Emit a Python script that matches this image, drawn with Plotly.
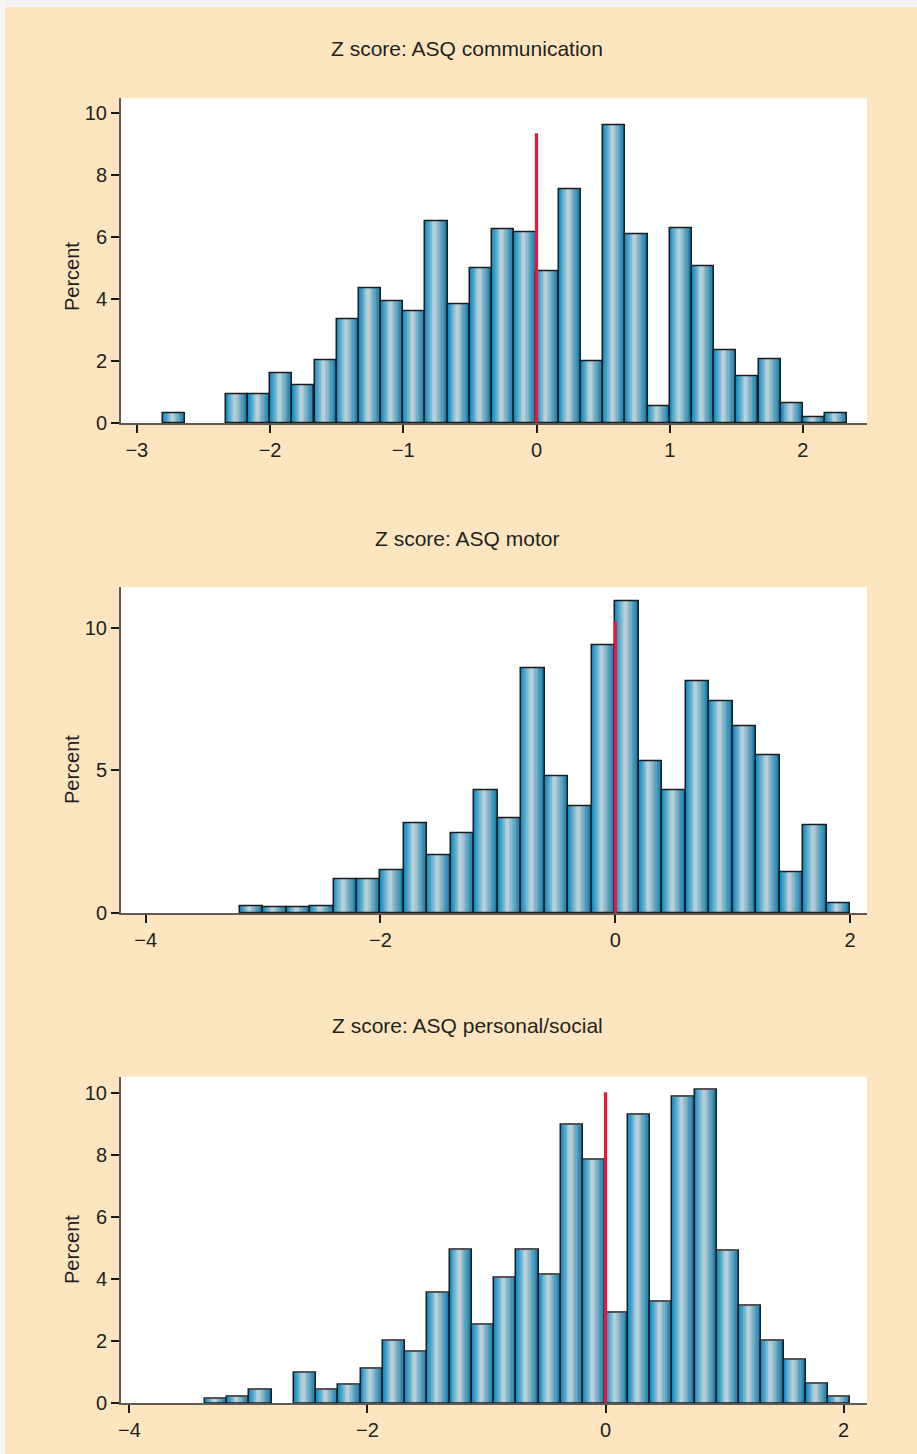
import plotly.graph_objects as go

# ---------------- data ----------------
titles = ["Z score: ASQ communication", "Z score: ASQ motor", "Z score: ASQ personal/social"]

comm_centers = [-2.72, -2.25, -2.083, -1.917, -1.75, -1.583, -1.417, -1.25, -1.083, -0.917,
                -0.75, -0.583, -0.417, -0.25, -0.083, 0.083, 0.25, 0.417, 0.583, 0.75,
                0.917, 1.083, 1.25, 1.417, 1.583, 1.75, 1.917, 2.083, 2.25]
comm_pct = [0.33, 0.92, 0.92, 1.62, 1.21, 2.02, 3.36, 4.34, 3.95, 3.60,
            6.52, 3.83, 5.00, 6.27, 6.17, 4.91, 7.53, 1.99, 9.62, 6.08,
            0.56, 6.30, 5.06, 2.37, 1.52, 2.05, 0.65, 0.18, 0.31]
comm_binw = 0.1667

motor_centers = [-3.1, -2.9, -2.7, -2.5, -2.3, -2.1, -1.9, -1.7, -1.5, -1.3,
                 -1.1, -0.9, -0.7, -0.5, -0.3, -0.1, 0.1, 0.3, 0.5, 0.7,
                 0.9, 1.1, 1.3, 1.5, 1.7, 1.9]
motor_pct = [0.26, 0.20, 0.20, 0.24, 1.20, 1.20, 1.50, 3.16, 2.02, 2.79,
             4.32, 3.31, 8.58, 4.81, 3.73, 9.38, 10.93, 5.32, 4.29, 8.13,
             7.42, 6.53, 5.52, 1.45, 3.07, 0.36]
motor_binw = 0.2

social_centers = [-3.273, -3.086, -2.899, -2.525, -2.338, -2.151, -1.964, -1.777, -1.590, -1.403,
                  -1.216, -1.029, -0.842, -0.655, -0.468, -0.281, -0.094, 0.094, 0.281, 0.468,
                  0.655, 0.842, 1.029, 1.216, 1.403, 1.590, 1.777, 1.964]
social_pct = [0.15, 0.21, 0.44, 0.99, 0.44, 0.59, 1.13, 2.02, 1.66, 3.56,
              4.96, 2.52, 4.04, 4.94, 4.13, 8.98, 7.86, 2.93, 9.29, 3.28,
              9.86, 10.11, 4.90, 3.16, 2.02, 1.42, 0.62, 0.21]
social_binw = 0.187

red_line_x = [0, 0, 0]
red_line_top = [9.35, 10.21, 10.02]

x_ticks = [[-3, -2, -1, 0, 1, 2], [-4, -2, 0, 2], [-4, -2, 0, 2]]
y_ticks = [[0, 2, 4, 6, 8, 10], [0, 5, 10], [0, 2, 4, 6, 8, 10]]

# ---------------- style / layout ----------------
W, H = 917, 1454
BEIGE = "#fde6bf"
FONT = "Liberation Sans, Arial, Helvetica, sans-serif"
TXT = "#231f20"
LEFT_DARK = (0x14, 0x8e, 0xc3)
RIGHT_DARK = (0x08, 0x76, 0xa8)
LIGHT = (0xc8, 0xd8, 0xdc)
PEAK = 0.42
NL = 10

x_ranges = [[-3.119, 2.481], [-4.210, 2.144], [-4.071, 2.197]]
y_ranges = [[0, 10.48], [0, 11.41], [0, 10.52]]
plot_px = [(98.3, 423.3), (587.3, 913.3), (1076.7, 1403.3)]
title_py = [48, 538, 1025]
ylabel_py = [277, 770, 1250]
x_dom = [121 / W, 867 / W]


def mix(a, b, s):
    return "rgb(%d,%d,%d)" % tuple(round(a[i] + (b[i] - a[i]) * s) for i in range(3))


fig = go.Figure()

panels = [(comm_centers, comm_pct, comm_binw),
          (motor_centers, motor_pct, motor_binw),
          (social_centers, social_pct, social_binw)]

for p, (cx, pct, bw) in enumerate(panels):
    xa = "x" if p == 0 else "x%d" % (p + 1)
    ya = "y" if p == 0 else "y%d" % (p + 1)
    # base fill + shading layers (cylinder-like gradient)
    for i in range(NL):
        s = i / NL
        lf, rf = PEAK * s, PEAK
        fig.add_trace(go.Bar(x=cx, y=pct, width=bw * (rf - lf), offset=-bw / 2 + bw * lf,
                             marker=dict(color=mix(LEFT_DARK, LIGHT, s), line=dict(width=0)),
                             xaxis=xa, yaxis=ya, showlegend=False, hoverinfo="skip"))
        lf, rf = PEAK, PEAK + (1 - PEAK) * (1 - s)
        fig.add_trace(go.Bar(x=cx, y=pct, width=bw * (rf - lf), offset=-bw / 2 + bw * lf,
                             marker=dict(color=mix(RIGHT_DARK, LIGHT, s), line=dict(width=0)),
                             xaxis=xa, yaxis=ya, showlegend=False, hoverinfo="skip"))
    # outlines
    fig.add_trace(go.Bar(x=cx, y=pct, width=bw, offset=-bw / 2,
                         marker=dict(color="rgba(0,0,0,0)", line=dict(color="#1c1c1c", width=1.5)),
                         xaxis=xa, yaxis=ya, showlegend=False, hoverinfo="skip"))
    # red reference line
    fig.add_trace(go.Scatter(x=[red_line_x[p], red_line_x[p]], y=[0, red_line_top[p]],
                             mode="lines", line=dict(color="#e8173a", width=3.2),
                             xaxis=xa, yaxis=ya, showlegend=False, hoverinfo="skip"))

layout = dict(
    width=W, height=H, autosize=False,
    margin=dict(l=0, r=0, t=0, b=0),
    paper_bgcolor=BEIGE, plot_bgcolor="white",
    barmode="overlay", bargap=0,
    font=dict(family=FONT, size=20, color=TXT),
    showlegend=False,
)

axis_common = dict(showline=True, linecolor="#605a55", linewidth=2,
                   ticks="outside", ticklen=8, tickwidth=2, tickcolor="#1a1a1a",
                   showgrid=False, zeroline=False, automargin=False,
                   tickfont=dict(family=FONT, size=20, color=TXT), fixedrange=True)

annotations = []
for p in range(3):
    top_px, bot_px = plot_px[p]
    ydom = [1 - bot_px / H, 1 - top_px / H]
    xk = "xaxis" if p == 0 else "xaxis%d" % (p + 1)
    yk = "yaxis" if p == 0 else "yaxis%d" % (p + 1)
    ya = "y" if p == 0 else "y%d" % (p + 1)
    xa = "x" if p == 0 else "x%d" % (p + 1)
    layout[xk] = dict(axis_common, domain=x_dom, range=x_ranges[p], anchor=ya,
                      tickmode="array", tickvals=x_ticks[p])
    layout[yk] = dict(axis_common, domain=ydom, range=y_ranges[p], anchor=xa,
                      tickmode="array", tickvals=y_ticks[p])
    annotations.append(dict(text=titles[p], x=467 / W, y=1 - title_py[p] / H,
                            xref="paper", yref="paper", showarrow=False,
                            xanchor="center", yanchor="middle",
                            font=dict(family=FONT, size=21, color=TXT)))
    annotations.append(dict(text="Percent", x=72 / W, y=1 - ylabel_py[p] / H,
                            xref="paper", yref="paper", showarrow=False, textangle=-90,
                            xanchor="center", yanchor="middle",
                            font=dict(family=FONT, size=20, color=TXT)))

layout["annotations"] = annotations
layout["shapes"] = [
    dict(type="rect", xref="paper", yref="paper", x0=0, x1=1, y0=1 - 7 / H, y1=1,
         fillcolor="#f3f3f3", line=dict(width=0), layer="below"),
    dict(type="rect", xref="paper", yref="paper", x0=0, x1=5 / W, y0=0, y1=1,
         fillcolor="#f6f6f6", line=dict(width=0), layer="below"),
]

fig.update_layout(**layout)
fig.write_html("out.html", config={"displayModeBar": False},
               post_script="document.body.style.margin='0';document.body.style.padding='0';")
